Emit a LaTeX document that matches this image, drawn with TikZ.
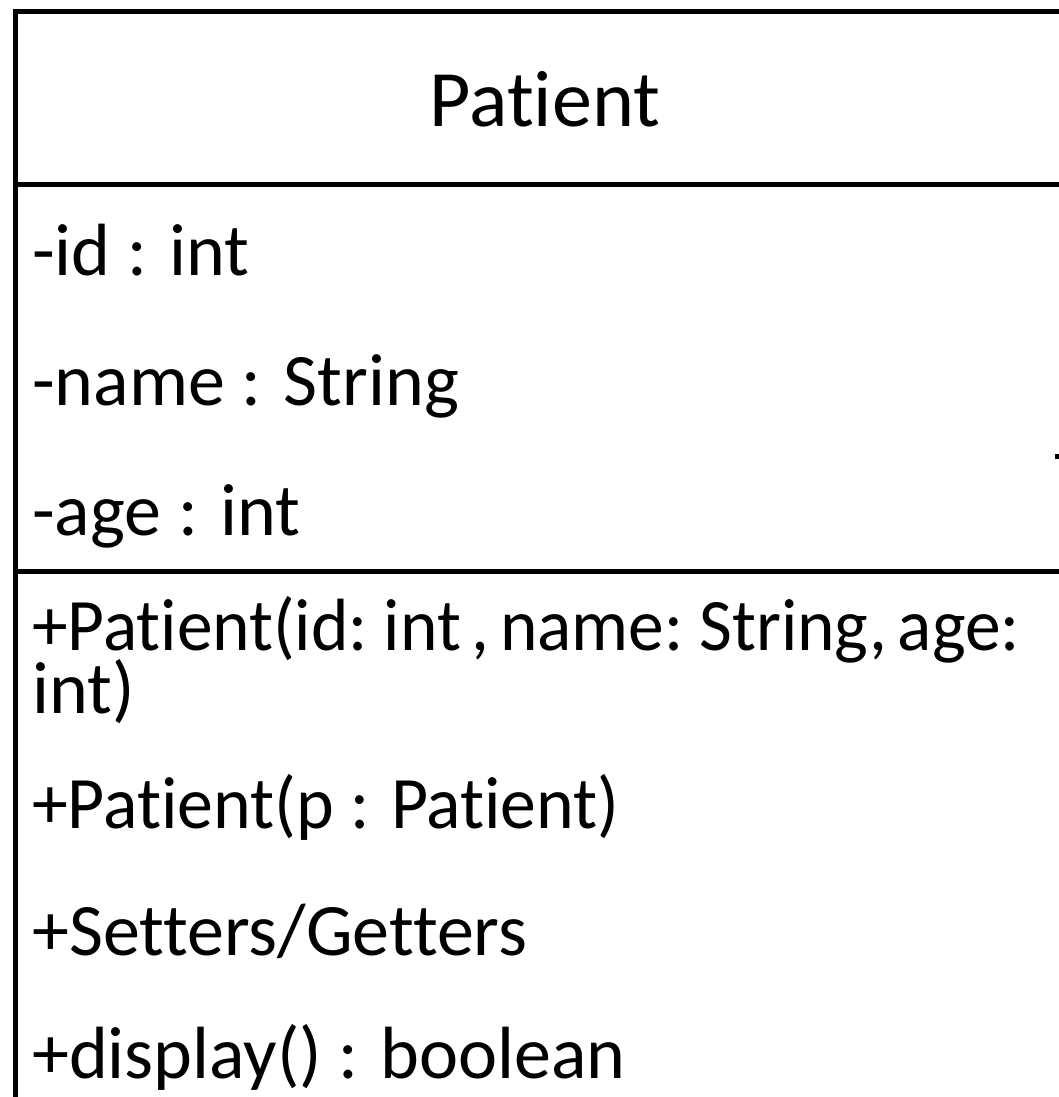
\documentclass[tikz,border=0pt]{standalone}
\usepackage{fontspec}
\setmainfont{Carlito}[Ligatures={NoCommon,NoContextual,NoRequired},Contextuals=NoAlternate]
\begin{document}
\begin{tikzpicture}[x=1pt,y=-1pt,
  member/.style={anchor=base west,inner sep=0pt,font=\fontsize{74}{74}\selectfont},
  titletext/.style={anchor=base,inner sep=0pt,font=\fontsize{80}{80}\selectfont},
  border/.style={line width=5pt,line cap=rect}]
\useasboundingbox (0,0) rectangle (1059,1097);
\fill[white] (0,0) rectangle (1059,1097);
% box outline and dividers
\coordinate (tl) at (15.5,11.5);
\coordinate (tr) at (1065,11.5);
\coordinate (bl) at (15.5,1105);
\coordinate (d1l) at (15.5,184.5);
\coordinate (d1r) at (1065,184.5);
\coordinate (d2l) at (15.5,571);
\coordinate (d2r) at (1065,571);
\draw[border] (tr) -- (tl) -- (bl);
\draw[border] (d1l) -- (d1r);
\draw[border] (d2l) -- (d2r);
% title
\node[titletext] (title) at (545,127) {Pat\kern0pt ient};
% attributes
\node[member] (a1) at (32,275) {-id : int};
\node[member] (a2) at (32,405) {-name : String};
\node[member] (a3) at (32,535) {-age : int};
% methods
\node[member] (m1) at (32,650) {\spaceskip=11pt\scalebox{0.965}[1]{+Pat\kern0pt ient(id: int , name: String, age:}};
\node[member] (m1b) at (32,713) {int)};
\node[member] (m2) at (32,828) {\scalebox{0.97}[1]{+Pat\kern0pt ient(p : Pat\kern0pt ient)}};
\node[member] (m3) at (32,955) {+Setters/Getters};
\node[member] (m4) at (32,1078) {+display() : boolean};
% small fragment at right edge
\fill (1055,454) rectangle (1059,459);
\end{tikzpicture}
\end{document}
